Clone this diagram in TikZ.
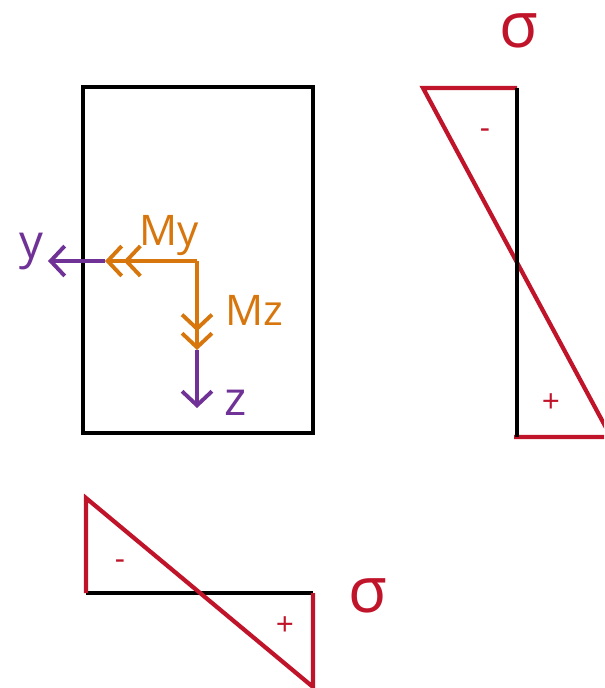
\documentclass[tikz,border=0pt]{standalone}
\usepackage{fontspec}
\setmainfont{Open Sans}
\usepackage{xcolor}
\usetikzlibrary{arrows.meta, positioning}
\definecolor{sigred}{RGB}{192,20,42}
\definecolor{momorange}{RGB}{214,118,12}
\definecolor{axpurple}{RGB}{112,50,150}
\tikzstyle{section} = [draw=black, line width=2.5pt]
\tikzstyle{stress} = [draw=sigred, line width=2.4pt, line join=miter]
\tikzstyle{axis} = [draw=axpurple, line width=2.2pt, -{Straight Barb[length=8pt,width=17pt]}]
\tikzstyle{moment} = [draw=momorange, line width=2.2pt, -{Straight Barb[length=8pt,width=17pt] Straight Barb[length=8pt,width=17pt]}]
\tikzstyle{momlabel} = [text=momorange, font=\fontsize{24}{24}\selectfont, inner sep=0pt]
\tikzstyle{axlabel} = [text=axpurple, font=\fontsize{27}{27}\selectfont, inner sep=0pt]
\tikzstyle{sigma} = [text=sigred, font=\fontsize{36}{36}\selectfont, inner sep=0pt]
\tikzstyle{sign} = [text=sigred, font=\fontsize{18}{18}\selectfont, inner sep=0pt]

\begin{document}
\begin{tikzpicture}[x=0.02cm, y=-0.02cm]
        \useasboundingbox (0,0) rectangle (604,688);
        \clip (0,0) rectangle (604,688);

        % Cross section
        \draw [section] (83,87) rectangle (313,433);
        \coordinate (O) at (197,261);
        \coordinate (mytip) at (105,261);
        \coordinate (ytip) at (48,261);
        \coordinate (mztip) at (197,350);
        \coordinate (ztip) at (197,408);

        % Axes and moments
        \draw [axis] (mytip) -- (ytip);
        \draw [axis] (mztip) -- (ztip);
        \draw [moment] (O) -- (mytip);
        \draw [moment] (O) -- (mztip);

        \node (ylbl) [axlabel] at (31,252) {y};
        \node (zlbl) [axlabel] at (236,403) {z};
        \node (mylbl) [momlabel] at (169,236) {My};
        \node (mzlbl) [momlabel] at (254,310) {Mz};

        % Stress over the height
        \coordinate (rtop) at (517,88);
        \coordinate (rbot) at (517,437);
        \draw [stress] (rtop) -- (423,88) -- (611,437) -- (514,437);
        \draw [section] (rtop) -- (rbot);
        \node (sigtop) [sigma] at (519,31) {σ};
        \node (mintop) [sign] at (485,134) {-};
        \node (plustop) [sign] at (551,403) {+};

        % Stress over the width
        \coordinate (bleft) at (86,593);
        \coordinate (bright) at (313,593);
        \draw [section] (bleft) -- (bright);
        \draw [stress] (bleft) -- (86,498) -- (313,687) -- (bright);
        \node (sigbot) [sigma] at (368,596) {σ};
        \node (minbot) [sign] at (120,565) {-};
        \node (plusbot) [sign] at (285,626) {+};
    \end{tikzpicture}
\end{document}
